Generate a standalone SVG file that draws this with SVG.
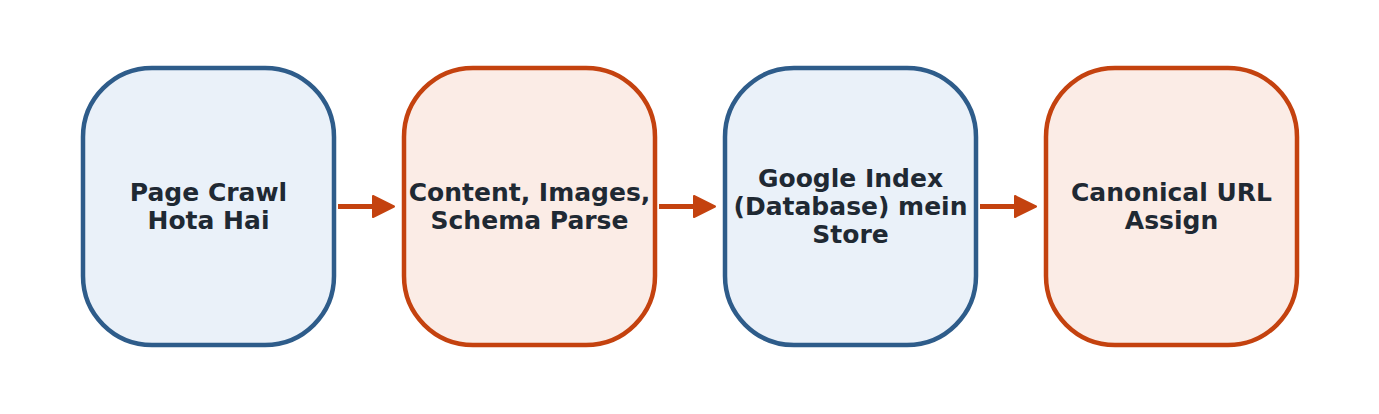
<svg xmlns="http://www.w3.org/2000/svg" width="1379" height="414" viewBox="0 0 1379 414">
<style>
.blue{fill:#EAF1F9;stroke:#2E5C8A;stroke-width:4.5}
.orange{fill:#FBECE6;stroke:#C4420F;stroke-width:4.5}
.t{font-family:"DejaVu Sans",sans-serif;font-weight:bold;font-size:25px;fill:#1F2933;text-anchor:middle;dominant-baseline:central}
.c{stroke:#C4420F;stroke-width:5;fill:none}
.h{fill:#C4420F;stroke:#C4420F;stroke-width:2;stroke-linejoin:round}
</style>
<rect width="1379" height="414" fill="#ffffff"/>
<g id="connectors">
<line class="c" x1="338" y1="206.5" x2="376" y2="206.5"/>
<polygon class="h" points="373,196 394,206.5 373,217"/>
<line class="c" x1="659" y1="206.5" x2="697" y2="206.5"/>
<polygon class="h" points="694,196 715,206.5 694,217"/>
<line class="c" x1="980" y1="206.5" x2="1018" y2="206.5"/>
<polygon class="h" points="1015,196 1036,206.5 1015,217"/>
</g>
<g id="node1">
<rect class="blue" x="83" y="68" width="251" height="277" rx="69" ry="69"/>
<text class="t" x="208.5" y="192.5">Page Crawl</text>
<text class="t" x="208.5" y="220.5">Hota Hai</text>
</g>
<g id="node2">
<rect class="orange" x="404" y="68" width="251" height="277" rx="69" ry="69"/>
<text class="t" x="529.5" y="192.5">Content, Images,</text>
<text class="t" x="529.5" y="220.5">Schema Parse</text>
</g>
<g id="node3">
<rect class="blue" x="725" y="68" width="251" height="277" rx="69" ry="69"/>
<text class="t" x="850.5" y="178.5">Google Index</text>
<text class="t" x="850.5" y="206.5">(Database) mein</text>
<text class="t" x="850.5" y="234.5">Store</text>
</g>
<g id="node4">
<rect class="orange" x="1046" y="68" width="251" height="277" rx="69" ry="69"/>
<text class="t" x="1171.5" y="192.5">Canonical URL</text>
<text class="t" x="1171.5" y="220.5">Assign</text>
</g>
</svg>
